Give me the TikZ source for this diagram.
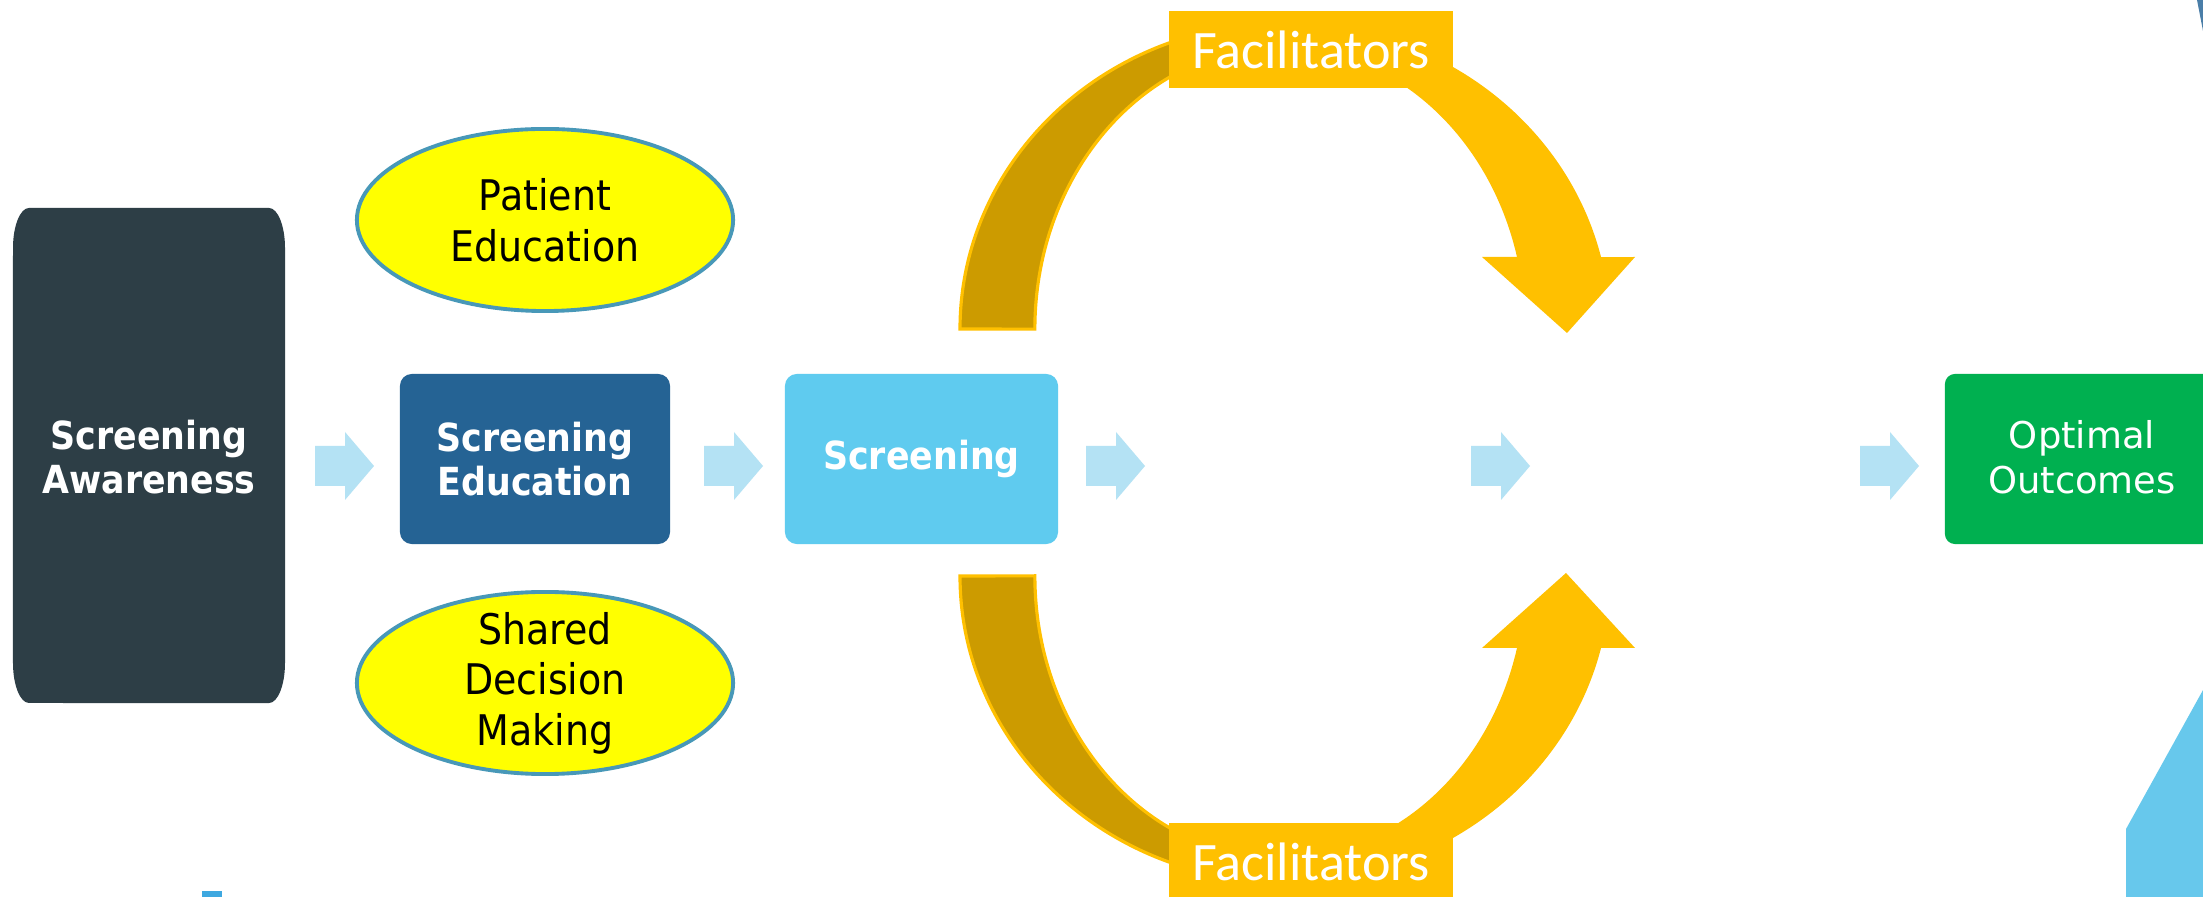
\documentclass[tikz,border=0pt]{standalone}
\usepackage{fontspec}
\setmainfont{DejaVu Sans}
\newfontfamily\tahfont[FakeStretch=0.9]{DejaVu Sans}
\newfontfamily\calfont{Carlito}
\usetikzlibrary{shapes.geometric}
\definecolor{darkbox}{RGB}{45,62,70}
\definecolor{edublue}{RGB}{37,99,148}
\definecolor{scrblue}{RGB}{95,203,239}
\definecolor{optgreen}{RGB}{0,176,80}
\definecolor{arrowblue}{RGB}{180,226,244}
\definecolor{yel}{RGB}{255,255,0}
\definecolor{ellborder}{RGB}{72,152,184}
\definecolor{gold}{RGB}{255,192,0}
\definecolor{darkgold}{RGB}{204,155,0}
\definecolor{cornerblue}{RGB}{74,126,168}
\definecolor{lightcorner}{RGB}{103,200,236}
\definecolor{smallblue}{RGB}{62,168,224}
\newcommand\blockarrow[1]{\fill[arrowblue] (#1,411) -- ++(30,0) -- ++(0,-14) -- ++(29,34) -- ++(-29,34) -- ++(0,-14) -- ++(-30,0) -- cycle;}
\tikzset{
  boldtext/.style={text=white, align=center, font=\tahfont\bfseries\fontsize{11}{12.6}\selectfont},
  stagebox/.style={boldtext, rounded corners=0.12cm, minimum height=1.70cm, inner sep=0pt},
  ellip/.style={ellipse, draw=ellborder, line width=1.1pt, fill=yel, minimum width=3.76cm, minimum height=1.82cm, inner sep=0pt},
  elltext/.style={align=center, text=black, font=\tahfont\fontsize{12}{14.4}\selectfont},
  facbox/.style={fill=gold, minimum width=2.84cm, minimum height=0.77cm, inner sep=0pt, text=white, font=\calfont\fontsize{15.4}{18}\selectfont},
  backband/.style={fill=darkgold, draw=gold, line width=0.9pt},
}
\begin{document}
\begin{tikzpicture}[x=0.01cm,y=0.01cm]
\useasboundingbox (0,0) rectangle (2203,897);
\clip (0,0) rectangle (2203,897);
\fill[white] (0,0) rectangle (2203,897);

% corner decorations
\fill[cornerblue] (2197,897) -- (2203,897) -- (2203,866) -- cycle;
\fill[lightcorner] (2126,0) -- (2126,68) -- (2203,207) -- (2203,0) -- cycle;
\fill[smallblue] (202,0) rectangle (222,6);

% Screening Awareness box (elliptical corners)
\fill[darkbox] (29,689) -- (269,689)
  arc[start angle=90,end angle=0,x radius=0.16cm,y radius=0.40cm] -- (285,234)
  arc[start angle=0,end angle=-90,x radius=0.16cm,y radius=0.40cm] -- (29,194)
  arc[start angle=270,end angle=180,x radius=0.16cm,y radius=0.40cm] -- (13,649)
  arc[start angle=180,end angle=90,x radius=0.16cm,y radius=0.40cm] -- cycle;
\node[boldtext] (aware) at (149,440) {Screening\\Awareness};

% stage boxes
\node[stagebox, fill=edublue, minimum width=2.70cm] (edu) at (535,438) {Screening\\Education};
\node[stagebox, fill=scrblue, minimum width=2.73cm] (scr) at (921.5,438) {Screening};
\node[fill=optgreen, rounded corners=0.1cm, minimum width=2.80cm, minimum height=1.70cm, inner sep=0pt] (opt) at (2085,438) {};
\node[text=white, align=center, font=\fontsize{10.5}{12.8}\selectfont] (opttext) at (2082,440) {Optimal\\Outcomes};

% ellipses
\node[ellip] (pat) at (545,677) {};
\node[elltext] (pattext) at (pat.center) {Patient\\Education};
\node[ellip] (sdm) at (545,214) {};
\node[elltext] (sdmtext) at (sdm.center) {Shared\\Decision\\Making};

% block arrows
\blockarrow{315}
\blockarrow{704}
\blockarrow{1086}
\blockarrow{1471}
\blockarrow{1860}

% top curved arrow
\filldraw[backband] (960,568) arc[start angle=180,end angle=90,x radius=3.25cm,y radius=3.06cm]
  -- (1280,850) arc[start angle=90,end angle=180,x radius=2.45cm,y radius=2.82cm] -- cycle;
\fill[gold] (1285,874) arc[start angle=90,end angle=13.6,x radius=3.25cm,y radius=3.06cm]
  -- (1635,640) -- (1567,564) -- (1482,640) -- (1517,640)
  arc[start angle=14.8,end angle=90,x radius=2.45cm,y radius=2.82cm] -- cycle;

% bottom curved arrow
\filldraw[backband] (960,321) arc[start angle=180,end angle=270,x radius=3.25cm,y radius=3.06cm]
  -- (1280,39) arc[start angle=270,end angle=180,x radius=2.45cm,y radius=2.82cm] -- cycle;
\fill[gold] (1285,15) arc[start angle=270,end angle=346.4,x radius=3.25cm,y radius=3.06cm]
  -- (1635,249) -- (1566,324) -- (1482,249) -- (1517,249)
  arc[start angle=345.2,end angle=270,x radius=2.45cm,y radius=2.82cm] -- cycle;

% facilitator labels
\node[facbox] (factop) at (1311,847.5) {Facilitators};
\node[facbox] (facbot) at (1311,35.5) {Facilitators};
\end{tikzpicture}
\end{document}
